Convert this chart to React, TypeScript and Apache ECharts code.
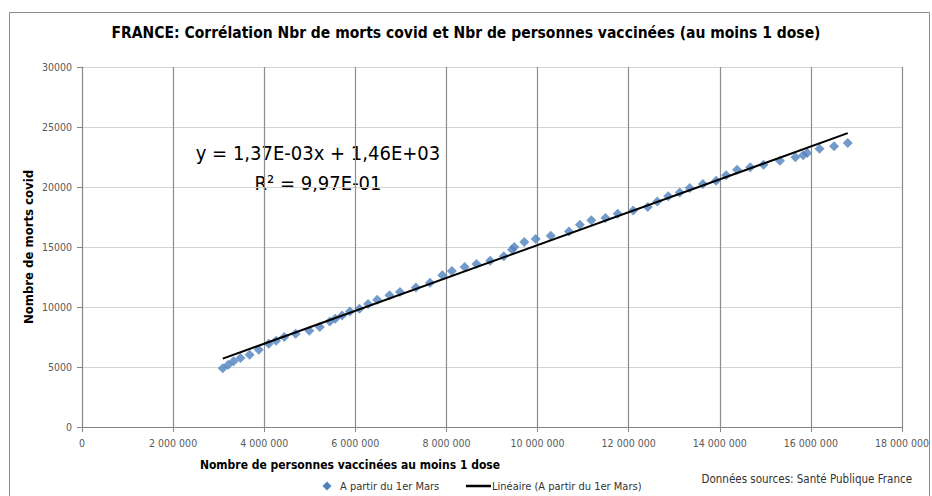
import React, { useEffect, useRef } from "react";
import * as echarts from "echarts";

const TITLE = "FRANCE: Corrélation Nbr de morts covid et Nbr de personnes vaccinées (au moins 1 dose)";
const X_NAME = "Nombre de personnes vaccinées au moins 1 dose";
const Y_NAME = "Nombre de morts covid";
const SERIES_NAME = "A partir du 1er Mars";
const TREND_NAME = "Linéaire (A partir du 1er Mars)";
const SOURCE = "Données sources: Santé Publique France";
const EQUATION = "y = 1,37E-03x + 1,46E+03";
const R2 = "R² = 9,97E-01";

// Trend line coefficients (as printed on the chart)
const TREND_SLOPE = 1.37e-3;
const TREND_INTERCEPT = 1.46e3;

// People vaccinated (at least 1 dose)
const vaccinated = [
  3090000, 3210000, 3330000, 3480000, 3680000, 3880000, 4100000, 4260000, 4440000, 4690000,
  4990000, 5220000, 5440000, 5560000, 5710000, 5880000, 6090000, 6280000, 6480000, 6750000,
  6980000, 7330000, 7640000, 7910000, 8120000, 8400000, 8660000, 8960000, 9260000, 9440000,
  9490000, 9710000, 9960000, 10290000, 10690000, 10930000, 11180000, 11490000, 11760000, 12100000,
  12420000, 12630000, 12870000, 13120000, 13340000, 13630000, 13920000, 14140000, 14380000, 14670000,
  14960000, 15320000, 15660000, 15830000, 15920000, 16190000, 16510000, 16810000,
];

// Covid deaths
const deaths = [
  4900, 5190, 5470, 5750, 6030, 6440, 6940, 7190, 7500, 7780,
  8030, 8330, 8800, 9020, 9300, 9630, 9860, 10250, 10610, 10970,
  11250, 11630, 12030, 12650, 13000, 13330, 13580, 13860, 14220, 14780,
  15000, 15420, 15670, 15940, 16300, 16860, 17220, 17420, 17780, 18050,
  18330, 18800, 19220, 19550, 19920, 20250, 20530, 20970, 21440, 21640,
  21860, 22190, 22470, 22640, 22830, 23190, 23390, 23670,
];

const FONT = "'Liberation Sans Narrow', 'DejaVu Sans Condensed', 'Liberation Sans', sans-serif";

function fmtThousands(v: number): string {
  return String(Math.round(v)).replace(/\B(?=(\d{3})+(?!\d))/g, " ");
}

export default function App() {
  const ref = useRef<HTMLDivElement>(null);
  useEffect(() => {
    document.body.style.margin = "0";
    const chart = echarts.init(ref.current!, null, { renderer: "svg" });
    const points = vaccinated.map((x, i) => [x, deaths[i]]);
    const xMin = Math.min(...vaccinated);
    const xMax = Math.max(...vaccinated);
    const trend = [
      [xMin, TREND_SLOPE * xMin + TREND_INTERCEPT],
      [xMax, TREND_SLOPE * xMax + TREND_INTERCEPT],
    ];
    const legendY = 486;
    chart.setOption({
      animation: false,
      backgroundColor: "#ffffff",
      textStyle: { fontFamily: FONT },
      grid: { left: 82, top: 67, width: 826, height: 360, containLabel: false },
      xAxis: {
        type: "value",
        min: 0,
        max: 18000000,
        interval: 2000000,
        axisLine: { show: true, lineStyle: { color: "#868686", width: 1 } },
        axisTick: { show: true, length: 5, lineStyle: { color: "#868686" } },
        axisLabel: {
          color: "#595959",
          fontSize: 10.5,
          fontFamily: FONT,
          margin: 10,
          formatter: (v: number) => fmtThousands(v),
        },
        splitLine: { show: true, lineStyle: { color: "#8c8c8c", width: 1.2 } },
      },
      yAxis: {
        type: "value",
        min: 0,
        max: 30000,
        interval: 5000,
        axisLine: { show: true, lineStyle: { color: "#868686", width: 1 } },
        axisTick: { show: true, length: 5, lineStyle: { color: "#868686" } },
        axisLabel: {
          color: "#595959",
          fontSize: 10.5,
          fontFamily: FONT,
          margin: 10,
          formatter: (v: number) => String(v),
        },
        splitLine: { show: true, lineStyle: { color: "#d4d4d4", width: 1.2 } },
      },
      series: [
        {
          name: SERIES_NAME,
          type: "scatter",
          data: points,
          symbol: "diamond",
          symbolSize: 10,
          itemStyle: { color: "#4f81bd" },
          z: 2,
        },
        {
          name: TREND_NAME,
          type: "line",
          data: trend,
          symbol: "none",
          lineStyle: { color: "#000000", width: 2 },
          itemStyle: { color: "#000000" },
          z: 3,
        },
      ],
      graphic: [
        {
          type: "rect",
          shape: { x: 9.5, y: 12.5, width: 920, height: 520 },
          style: { fill: "none", stroke: "#8a8a8a", lineWidth: 1 },
          silent: true,
          z: -1,
        },
        {
          type: "text",
          x: 466,
          y: 33,
          style: {
            text: TITLE,
            font: `bold 15.5px ${FONT}`,
            fill: "#000",
            align: "center",
            verticalAlign: "middle",
          },
        },
        {
          type: "text",
          x: 350,
          y: 465,
          style: {
            text: X_NAME,
            font: `bold 12px ${FONT}`,
            fill: "#000",
            align: "center",
            verticalAlign: "middle",
          },
        },
        {
          type: "text",
          x: 28,
          y: 247,
          rotation: Math.PI / 2,
          style: {
            text: Y_NAME,
            font: `bold 13px ${FONT}`,
            fill: "#000",
            align: "center",
            verticalAlign: "middle",
          },
        },
        {
          type: "text",
          x: 318,
          y: 153,
          style: {
            text: EQUATION,
            font: `20px ${FONT}`,
            fill: "#000",
            align: "center",
            verticalAlign: "middle",
          },
        },
        {
          type: "text",
          x: 318,
          y: 183,
          style: {
            text: R2,
            font: `20px ${FONT}`,
            fill: "#000",
            align: "center",
            verticalAlign: "middle",
          },
        },
        {
          type: "text",
          x: 912,
          y: 479,
          style: {
            text: SOURCE,
            font: `11.5px ${FONT}`,
            fill: "#333",
            align: "right",
            verticalAlign: "middle",
          },
        },
        // legend
        {
          type: "polygon",
          shape: {
            points: [
              [327, legendY - 4.5],
              [331.5, legendY],
              [327, legendY + 4.5],
              [322.5, legendY],
            ],
          },
          style: { fill: "#4f81bd" },
        },
        {
          type: "text",
          x: 340,
          y: legendY,
          style: {
            text: SERIES_NAME,
            font: `11px ${FONT}`,
            fill: "#333",
            align: "left",
            verticalAlign: "middle",
          },
        },
        {
          type: "line",
          shape: { x1: 466, y1: legendY, x2: 491, y2: legendY },
          style: { stroke: "#000", lineWidth: 2.5 },
        },
        {
          type: "text",
          x: 492,
          y: legendY,
          style: {
            text: TREND_NAME,
            font: `11px ${FONT}`,
            fill: "#333",
            align: "left",
            verticalAlign: "middle",
          },
        },
      ],
    });
    return () => chart.dispose();
  }, []);
  return (
    <div
      ref={ref}
      style={{ position: "absolute", left: 0, top: 0, width: 932, height: 496 }}
    />
  );
}
